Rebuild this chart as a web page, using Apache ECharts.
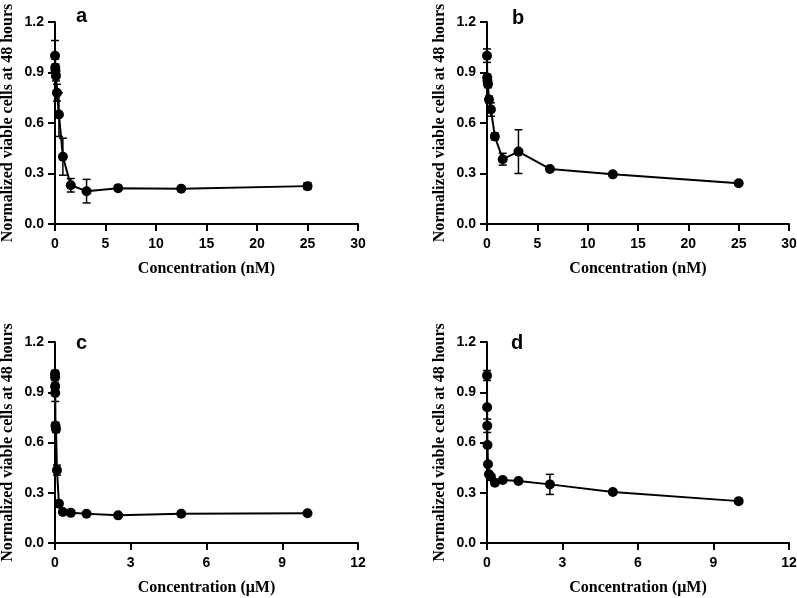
<!DOCTYPE html>
<html>
<head>
<meta charset="utf-8">
<script src="https://cdn.jsdelivr.net/npm/echarts@6/dist/echarts.min.js"></script>
<style>html,body{margin:0;padding:0;background:#fff}#chart{width:797px;height:598px}</style>
</head>
<body>
<div id="chart"></div>
<script>
// Panel a (nM)
const concA = [0, 0.0244, 0.0488, 0.0977, 0.195, 0.39, 0.78, 1.5625, 3.125, 6.25, 12.5, 25];
const valA  = [1.00, 0.93, 0.91, 0.88, 0.78, 0.65, 0.40, 0.23, 0.195, 0.213, 0.21, 0.225];
const errA  = [0.09, 0.05, 0.04, 0.03, 0.05, 0.13, 0.11, 0.04, 0.07, 0.01, 0.01, 0.02];
// Panel b (nM)
const concB = [0, 0.0244, 0.0488, 0.0977, 0.195, 0.39, 0.78, 1.5625, 3.125, 6.25, 12.5, 25];
const valB  = [1.00, 0.87, 0.85, 0.83, 0.74, 0.68, 0.52, 0.385, 0.43, 0.327, 0.295, 0.242];
const errB  = [0.04, 0.02, 0.02, 0.02, 0.02, 0.04, 0.02, 0.035, 0.13, 0.01, 0.01, 0.01];
// Panel c (µM)
const concC = [0, 0.0024, 0.0049, 0.0098, 0.0195, 0.039, 0.078, 0.156, 0.3125, 0.625, 1.25, 2.5, 5, 10];
const valC  = [1.01, 0.99, 0.935, 0.895, 0.70, 0.68, 0.435, 0.235, 0.185, 0.18, 0.175, 0.165, 0.175, 0.178];
const errC  = [0.02, 0.02, 0.02, 0.05, 0.02, 0.02, 0.03, 0.01, 0.01, 0.005, 0.005, 0.005, 0.005, 0.005];
// Panel d (µM)
const concD = [0, 0.0049, 0.0098, 0.0195, 0.039, 0.078, 0.156, 0.3125, 0.625, 1.25, 2.5, 5, 10];
const valD  = [1.00, 0.81, 0.70, 0.585, 0.47, 0.41, 0.395, 0.36, 0.376, 0.37, 0.35, 0.305, 0.25];
const errD  = [0.03, 0.01, 0.04, 0.01, 0.01, 0.01, 0.01, 0.01, 0.01, 0.01, 0.06, 0.01, 0.01];

const panelLetters = ['a', 'b', 'c', 'd'];
const xNames = ['Concentration (nM)', 'Concentration (nM)', 'Concentration (\u03bcM)', 'Concentration (\u03bcM)'];
const xMax = [30, 30, 12, 12];
const xInterval = [5, 5, 3, 3];
const yName = 'Normalized viable cells at 48 hours';

const panels = [
  {conc: concA, val: valA, err: errA},
  {conc: concB, val: valB, err: errB},
  {conc: concC, val: valC, err: errC},
  {conc: concD, val: valD, err: errD}
];

const grids = [
  {left: 55, top: 22, width: 303, height: 202},
  {left: 487, top: 22, width: 302, height: 202},
  {left: 55, top: 342, width: 303, height: 201},
  {left: 487, top: 342, width: 302, height: 201}
].map(g => Object.assign({outerBoundsMode: 'none', containLabel: false}, g));
const titlePos = [
  {left: 71, top: 1}, {left: 507, top: 3}, {left: 71, top: 328}, {left: 506, top: 328}
];

const tickFont = {fontFamily: 'Liberation Sans, Arial, sans-serif', fontWeight: 'bold', fontSize: 14, color: '#000'};
const nameFont = {fontFamily: 'Liberation Serif, Times New Roman, serif', fontWeight: 'bold', fontSize: 16, color: '#000'};
const axisLine = {show: true, lineStyle: {color: '#000', width: 2}};
const axisTick = {show: true, inside: false, length: 7, lineStyle: {color: '#000', width: 2}};

const option = {
  animation: false,
  backgroundColor: '#fff',
  title: panelLetters.map((t, i) => ({
    text: t, left: titlePos[i].left, top: titlePos[i].top,
    textStyle: {fontFamily: 'Liberation Sans, Arial, sans-serif', fontWeight: 'bold', fontSize: 20, color: '#000'}
  })),
  grid: grids,
  xAxis: panels.map((p, i) => ({
    type: 'value', gridIndex: i, min: 0, max: xMax[i], interval: xInterval[i],
    name: xNames[i], nameLocation: 'middle', nameGap: 37, nameTextStyle: nameFont,
    axisLine: axisLine, axisTick: axisTick, splitLine: {show: false},
    axisLabel: Object.assign({margin: 13}, tickFont)
  })),
  yAxis: panels.map((p, i) => ({
    type: 'value', gridIndex: i, min: 0, max: 1.2, interval: 0.3,
    name: yName, nameLocation: 'middle', nameGap: 39, nameTextStyle: nameFont,
    axisLine: axisLine, axisTick: axisTick, splitLine: {show: false},
    axisLabel: Object.assign({margin: 11, formatter: v => v.toFixed(1)}, tickFont)
  })),
  series: []
};

panels.forEach((p, i) => {
  option.series.push({
    type: 'custom', xAxisIndex: i, yAxisIndex: i, z: 3,
    data: p.conc.map((c, k) => [c, p.val[k] - p.err[k], p.val[k] + p.err[k]]),
    renderItem: function (params, api) {
      const lo = api.coord([api.value(0), api.value(1)]);
      const hi = api.coord([api.value(0), api.value(2)]);
      const w = 4;
      const st = {stroke: '#000', lineWidth: 1.5};
      return {
        type: 'group',
        children: [
          {type: 'line', shape: {x1: lo[0], y1: lo[1], x2: hi[0], y2: hi[1]}, style: st},
          {type: 'line', shape: {x1: lo[0] - w, y1: lo[1], x2: lo[0] + w, y2: lo[1]}, style: st},
          {type: 'line', shape: {x1: hi[0] - w, y1: hi[1], x2: hi[0] + w, y2: hi[1]}, style: st}
        ]
      };
    }
  });
  option.series.push({
    type: 'line', xAxisIndex: i, yAxisIndex: i, z: 4,
    data: p.conc.map((c, k) => [c, p.val[k]]),
    symbol: 'circle', symbolSize: 10,
    itemStyle: {color: '#000'},
    lineStyle: {color: '#000', width: 2}
  });
});

const chart = echarts.init(document.getElementById('chart'), null, {renderer: 'canvas'});
chart.setOption(option);
</script>
</body>
</html>
